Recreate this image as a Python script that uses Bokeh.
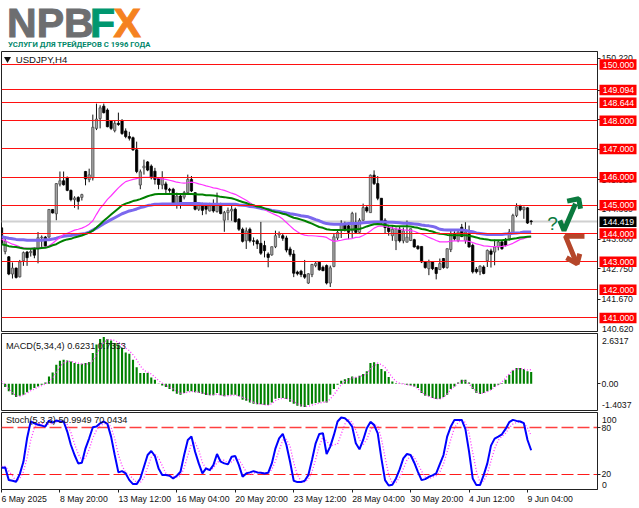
from bokeh.plotting import figure
from bokeh.layouts import column
from bokeh.models import Range1d, LinearAxis, FixedTicker, Label, NumeralTickFormatter
from bokeh.core.properties import value
from bokeh.embed import file_html
from bokeh.resources import INLINE

opens = [144.20,143.36,143.17,142.56,142.77,142.46,143.03,143.34,143.32,143.44,
143.46,143.85,143.87,143.87,144.85,144.70,145.75,145.87,145.99,145.53,
145.20,145.28,145.28,146.20,145.91,145.97,147.73,148.08,148.52,148.38,
147.99,147.65,147.91,147.99,147.64,147.44,147.40,146.97,145.72,146.33,
146.54,146.39,146.21,145.95,145.72,145.76,145.57,145.57,145.04,145.33,
145.29,145.45,145.92,145.45,144.86,145.04,144.98,144.80,145.04,144.78,
145.04,144.47,144.74,144.80,144.86,144.51,144.15,143.74,144.15,143.74,
143.74,143.65,143.57,143.27,143.24,143.53,143.95,143.92,143.84,143.45,
143.27,142.63,142.66,142.54,142.24,142.54,142.86,142.98,142.80,142.86,
142.24,142.83,143.84,144.10,144.33,144.27,144.10,144.39,144.04,144.47,
144.92,144.74,146.07,145.77,145.25,144.47,144.21,143.92,143.74,144.15,
143.74,143.69,143.75,143.78,143.55,143.54,142.99,142.75,142.99,142.79,
142.72,143.11,142.79,143.43,144.01,143.75,144.22,143.75,143.99,143.58,
142.73,142.64,142.81,143.03,143.38,143.34,143.52,143.70,143.75,143.81,
144.01,144.64,144.97,144.84,144.91,144.44]
highs = [144.34,143.91,143.20,142.97,142.79,143.06,143.36,143.38,143.44,143.50,
144.05,143.93,143.91,144.87,144.87,145.79,146.20,146.20,146.02,145.56,
145.32,145.32,145.41,146.22,146.30,148.22,148.61,148.55,148.61,148.44,
148.02,148.02,148.29,148.06,147.73,147.61,147.44,147.26,146.27,146.62,
146.57,146.45,146.33,145.98,146.21,145.84,145.62,145.62,145.45,145.39,
145.51,146.09,146.04,145.45,145.09,145.09,145.04,145.09,145.21,145.45,
145.09,144.80,144.92,145.04,144.92,144.54,144.21,144.21,144.21,143.86,
143.80,144.41,143.74,143.33,143.53,144.10,144.07,144.00,143.92,143.53,
143.41,142.68,142.71,143.06,142.59,142.92,143.00,143.00,142.86,142.90,
142.86,143.98,144.15,144.47,144.42,144.39,144.77,144.74,144.54,145.06,
144.98,146.09,146.24,146.04,145.25,144.54,144.27,144.27,144.21,144.24,
144.21,144.46,144.17,143.81,143.58,143.54,143.01,143.07,143.01,142.81,
143.11,143.13,143.46,144.11,144.08,144.13,144.34,144.40,144.28,143.64,
142.81,142.87,142.87,143.43,143.46,143.78,143.75,143.75,143.84,144.16,
144.70,145.07,145.02,144.95,144.93,144.48]
lows = [143.59,143.26,142.52,142.40,142.40,142.44,142.85,142.85,143.18,143.12,
142.94,143.52,143.50,143.85,144.71,144.47,145.67,145.70,145.50,145.14,
144.91,144.85,145.17,145.71,145.82,145.88,147.67,147.73,148.26,147.77,
147.67,147.59,147.82,147.50,147.38,147.30,146.93,146.14,145.57,146.09,
146.21,145.92,145.74,145.57,145.57,145.42,145.45,145.04,144.88,144.88,
145.21,145.41,145.47,144.82,144.80,144.65,144.68,144.78,144.74,144.74,
144.68,144.06,144.47,144.45,144.39,144.09,143.68,143.45,143.68,143.57,
143.45,143.24,143.15,142.80,143.21,143.48,143.84,143.74,143.33,143.18,
142.45,142.51,142.45,142.39,142.21,142.45,142.80,142.68,142.66,142.19,
142.10,142.80,143.77,143.84,144.07,143.80,143.84,144.00,143.98,144.45,
144.74,144.74,145.72,145.18,144.35,144.00,143.92,143.74,143.41,143.68,
143.65,143.69,143.73,143.50,143.42,142.95,142.75,142.52,142.70,142.37,
142.70,142.75,142.75,143.34,143.75,143.69,143.87,143.64,143.50,142.58,
142.58,142.52,142.55,142.81,142.79,142.87,143.40,143.42,143.54,143.75,
143.99,144.58,144.79,144.52,144.34,144.31]
closes = [143.65,143.73,142.56,142.77,142.44,142.99,143.32,143.14,143.36,143.23,
143.85,143.87,143.56,144.85,144.73,145.77,145.87,145.73,145.53,145.20,
145.26,145.14,145.38,145.94,146.08,147.77,148.06,148.46,148.29,147.79,
147.73,147.91,147.87,147.55,147.44,147.38,146.97,146.20,146.19,146.39,
146.25,145.98,145.92,145.74,145.98,145.57,145.53,145.04,145.33,145.04,
145.45,145.92,145.51,144.86,145.04,144.82,144.86,144.98,144.80,145.04,
144.71,144.74,144.82,144.86,144.42,144.15,143.72,144.09,143.74,143.72,
143.63,143.30,143.39,143.15,143.53,143.92,144.00,143.83,143.41,143.25,
142.59,142.57,142.54,142.45,142.57,142.90,142.94,142.71,142.68,142.24,
142.78,143.88,144.04,144.33,144.15,144.04,144.71,144.04,144.47,144.92,
144.80,146.07,145.77,145.25,144.45,144.21,144.07,144.15,144.15,143.74,
144.09,143.87,144.17,143.52,143.46,142.99,142.79,142.99,142.75,142.58,
142.93,142.79,143.46,143.99,143.81,144.05,143.89,144.05,143.52,142.64,
142.64,142.84,142.58,143.40,143.26,143.52,143.70,143.46,143.58,144.05,
144.64,144.95,144.84,144.93,144.37,144.42]

ma_fast = [143.80,143.74,143.68,143.62,143.58,143.53,143.49,143.47,143.47,143.48,
143.49,143.51,143.52,143.56,143.65,143.76,143.86,143.96,144.01,144.06,
144.12,144.15,144.19,144.25,144.33,144.45,144.68,144.89,145.04,145.21,
145.34,145.48,145.62,145.74,145.84,145.88,145.92,145.95,145.98,145.99,
145.99,145.99,145.98,145.96,145.94,145.92,145.89,145.86,145.82,145.80,
145.79,145.80,145.82,145.80,145.76,145.73,145.69,145.66,145.62,145.60,
145.56,145.53,145.48,145.43,145.39,145.32,145.25,145.18,145.09,145.01,
144.96,144.92,144.85,144.78,144.72,144.66,144.60,144.51,144.39,144.27,
144.15,144.06,143.98,143.94,143.92,143.92,143.91,143.90,143.89,143.86,
143.78,143.72,143.74,143.76,143.79,143.81,143.82,143.86,143.87,143.93,
144.00,144.09,144.19,144.25,144.27,144.26,144.22,144.20,144.16,144.15,
144.13,144.12,144.10,144.08,144.02,143.98,143.93,143.86,143.81,143.75,
143.70,143.70,143.70,143.73,143.74,143.74,143.74,143.74,143.72,143.68,
143.63,143.60,143.56,143.55,143.53,143.53,143.53,143.54,143.56,143.60,
143.65,143.72,143.79,143.82,143.86,143.88]
ma_mid = [143.62,143.59,143.55,143.53,143.52,143.49,143.47,143.46,143.46,143.47,
143.47,143.48,143.49,143.53,143.58,143.62,143.69,143.75,143.79,143.81,
143.86,143.89,143.93,143.98,144.03,144.10,144.21,144.33,144.45,144.56,
144.67,144.78,144.89,145.00,145.06,145.10,145.15,145.18,145.22,145.27,
145.32,145.36,145.39,145.40,145.40,145.40,145.40,145.40,145.40,145.40,
145.40,145.40,145.40,145.39,145.38,145.38,145.36,145.36,145.35,145.33,
145.30,145.29,145.27,145.25,145.21,145.16,145.12,145.08,145.03,145.00,
144.96,144.94,144.89,144.85,144.80,144.76,144.74,144.70,144.67,144.61,
144.56,144.53,144.49,144.45,144.40,144.35,144.29,144.23,144.20,144.15,
144.13,144.12,144.12,144.12,144.12,144.13,144.14,144.15,144.16,144.20,
144.25,144.29,144.33,144.34,144.33,144.30,144.28,144.27,144.26,144.26,
144.26,144.26,144.25,144.22,144.20,144.16,144.14,144.10,144.07,144.02,
143.99,143.98,143.95,143.94,143.94,143.94,143.94,143.94,143.92,143.89,
143.86,143.82,143.80,143.79,143.76,143.76,143.76,143.76,143.78,143.79,
143.81,143.83,143.86,143.87,143.88,143.89]
ma_slow = [143.88,143.86,143.83,143.81,143.79,143.78,143.78,143.76,143.76,143.76,
143.76,143.76,143.78,143.78,143.80,143.83,143.87,143.90,143.92,143.93,
143.95,143.96,143.98,144.00,144.05,144.12,144.19,144.27,144.35,144.42,
144.49,144.56,144.63,144.70,144.75,144.80,144.83,144.87,144.92,144.95,
144.99,145.01,145.04,145.04,145.05,145.05,145.05,145.05,145.05,145.06,
145.06,145.06,145.06,145.06,145.06,145.05,145.05,145.04,145.04,145.04,
145.04,145.04,145.04,145.04,145.04,145.01,145.00,144.99,144.96,144.95,
144.92,144.89,144.87,144.85,144.82,144.80,144.78,144.75,144.73,144.70,
144.68,144.66,144.63,144.61,144.59,144.54,144.49,144.45,144.39,144.35,
144.34,144.33,144.33,144.33,144.34,144.35,144.35,144.35,144.36,144.38,
144.39,144.40,144.41,144.41,144.41,144.41,144.40,144.40,144.39,144.38,
144.36,144.36,144.35,144.34,144.33,144.30,144.28,144.27,144.25,144.21,
144.15,144.13,144.12,144.12,144.12,144.12,144.12,144.11,144.08,144.06,
144.02,144.00,143.98,143.96,143.96,143.96,143.96,143.96,143.98,143.99,
144.01,144.02,144.03,144.05,144.05,144.05]

macd_hist = [0.02,-0.17,-0.40,-0.58,-0.70,-0.63,-0.58,-0.45,-0.31,-0.23,
-0.14,-0.05,0.07,0.38,0.59,1.00,1.21,1.26,1.22,1.17,
1.08,1.03,1.05,1.08,1.14,1.61,2.05,2.34,2.45,2.34,
2.27,2.13,2.05,1.87,1.64,1.57,1.26,0.86,0.56,0.56,
0.56,0.33,0.21,0.01,-0.10,-0.17,-0.28,-0.40,-0.52,-0.58,
-0.49,-0.40,-0.40,-0.45,-0.49,-0.52,-0.59,-0.61,-0.61,-0.49,
-0.61,-0.66,-0.61,-0.58,-0.58,-0.66,-0.84,-0.89,-0.98,-1.05,
-1.08,-1.08,-1.12,-1.12,-0.98,-0.79,-0.75,-0.75,-0.80,-0.94,
-1.05,-1.15,-1.19,-1.22,-1.12,-1.05,-1.01,-0.98,-0.93,-0.98,
-0.58,-0.28,-0.05,0.16,0.24,0.30,0.38,0.33,0.42,0.51,
0.65,1.08,1.12,1.03,0.77,0.65,0.35,0.12,0.03,-0.02,
0.01,-0.05,-0.10,-0.14,-0.23,-0.49,-0.63,-0.66,-0.75,-0.80,
-0.80,-0.70,-0.58,-0.28,-0.14,0.07,0.21,0.21,0.07,-0.28,
-0.49,-0.54,-0.49,-0.40,-0.31,-0.17,-0.05,0.03,0.21,0.47,
0.70,0.82,0.82,0.77,0.65,0.62]
macd_signal = [0.12,-0.05,-0.28,-0.49,-0.63,-0.66,-0.58,-0.49,-0.37,-0.28,
-0.17,-0.10,0.00,0.07,0.30,0.56,0.91,1.08,1.17,1.17,
1.12,1.08,1.03,1.03,1.05,1.21,1.52,1.87,2.17,2.31,
2.31,2.26,2.17,2.05,1.87,1.73,1.52,1.26,0.94,0.70,
0.61,0.51,0.35,0.17,0.03,-0.09,-0.17,-0.28,-0.40,-0.49,
-0.49,-0.45,-0.40,-0.42,-0.45,-0.49,-0.54,-0.58,-0.59,-0.54,
-0.58,-0.63,-0.63,-0.61,-0.59,-0.63,-0.72,-0.80,-0.89,-0.98,
-1.03,-1.07,-1.10,-1.12,-1.05,-0.89,-0.80,-0.77,-0.77,-0.84,
-0.94,-1.05,-1.12,-1.19,-1.19,-1.12,-1.07,-1.01,-0.98,-0.96,
-0.80,-0.58,-0.31,-0.05,0.12,0.21,0.30,0.33,0.37,0.44,
0.52,0.77,0.94,1.08,1.00,0.86,0.59,0.33,0.12,0.02,
-0.02,-0.05,-0.09,-0.14,-0.26,-0.45,-0.58,-0.66,-0.75,-0.79,
-0.79,-0.72,-0.52,-0.31,-0.14,0.03,0.16,0.16,-0.02,-0.23,
-0.42,-0.52,-0.49,-0.42,-0.31,-0.17,-0.05,0.09,0.30,0.52,
0.70,0.77,0.80,0.77,0.72,0.74]

stoch_main = [28.3,28.7,12.2,11.3,10.0,20.0,36.0,66.5,88.3,86.0,
84.0,83.0,81.7,89.6,87.0,89.6,88.3,88.3,75.2,57.8,
44.8,33.9,34.8,53.5,66.5,80.9,81.7,86.0,88.3,85.2,
68.7,44.8,22.2,23.9,20.9,12.2,7.0,7.0,14.3,29.6,
44.8,50.0,43.5,27.4,18.7,18.7,17.8,14.3,17.8,23.0,
44.8,64.3,68.7,49.1,33.9,20.9,27.4,25.2,31.7,46.1,
36.1,33.9,32.6,42.6,43.5,31.7,16.5,20.9,22.2,23.9,
22.2,21.7,20.9,21.7,33.9,53.5,66.5,72.2,57.8,36.1,
11.3,9.6,9.6,11.3,18.7,38.3,60.0,72.2,73.0,46.1,
55.7,70.9,88.3,93.5,92.6,88.3,81.7,60.0,52.2,64.3,
79.6,87.8,83.9,73.0,40.4,12.2,5.2,6.1,14.3,26.1,
40.4,46.1,44.8,34.8,23.0,12.2,13.5,16.5,18.3,20.9,
33.0,44.8,68.7,81.7,90.4,90.4,90.4,78.3,49.1,14.3,
5.7,5.7,18.7,33.9,57.0,66.1,68.7,71.7,78.7,87.4,
90.4,89.1,88.3,86.1,64.3,51.0]
stoch_signal = [30,30,24,18,11,14,23,41,64,80,
87,86,84,85,86,88,88,89,84,74,
59,46,38,41,52,67,77,83,85,86,
81,66,45,31,22,19,14,9,9,15,
29,42,46,41,31,21,18,17,16,18,
28,44,59,61,51,35,27,24,28,35,
38,38,34,36,40,39,31,23,19,21,
23,22,22,21,26,37,51,64,65,56,
35,19,11,10,13,23,39,57,68,63,
57,58,59,72,85,91,87,77,65,58,
65,77,84,83,66,42,19,8,9,16,
27,38,44,42,33,24,16,14,16,18,
23,33,49,65,80,87,90,87,73,48,
24,9,11,20,37,53,64,69,73,80,
85,87,88,86,80,70]

levels = [150.000,149.094,148.644,148.000,147.000,146.000,145.000,144.000,143.000,142.000,141.000]
bid = 144.419
price_ticks = [150.22,149.08,148.03,146.97,145.91,144.86,143.80,142.75,141.67]
last_price_tick = 140.62
date_ticks = [0,16,32,48,64,80,96,112,128,144]
date_labels = ["6 May 2025","8 May 20:00","13 May 12:00","16 May 04:00","20 May 20:00",
               "23 May 12:00","28 May 04:00","30 May 20:00","4 Jun 12:00","9 Jun 04:00"]
macd_title = "MACD(5,34,4) 0.6231 0.7353"
stoch_title = "Stoch(5,3,3) 50.9949 70.0434"
symbol_title = "USDJPY,H4"
logo_sub = "УСЛУГИ ДЛЯ ТРЕЙДЕРОВ С 1996 ГОДА"

FONT = value("Liberation Sans")
FONTNAME = "Liberation Sans"
FS = "8.7px"
BAR_END = 163.16
DARK = "#222222"
PINK = "#ff33ff"

def x_of(series):
    return list(range(len(series)))

def base(height, yr, top, bottom):
    p = figure(width=639, height=height, x_range=Range1d(0, BAR_END), y_range=Range1d(*yr),
               output_backend="svg", toolbar_location=None, min_border_left=1, min_border_right=42,
               min_border_top=top, min_border_bottom=bottom, x_axis_location=None, y_axis_location=None,
               background_fill_color="white", border_fill_color="white")
    p.grid.visible = False
    p.outline_line_color = DARK
    p.outline_line_width = 1
    return p

def right_axis(p, ticks, fmt=None):
    ax = LinearAxis(ticker=FixedTicker(ticks=ticks), axis_line_color=DARK, major_tick_line_color=DARK,
                    major_tick_in=0, major_tick_out=3, minor_tick_line_color=None, major_label_standoff=1,
                    major_label_text_font=FONTNAME, major_label_text_font_size=FS,
                    major_label_text_color="#111111")
    if fmt:
        ax.formatter = NumeralTickFormatter(format=fmt)
    p.add_layout(ax, "right")

def note(p, text, x, y, **kw):
    opts = dict(text_font=FONTNAME, text_font_size=FS, text_color="#111111", text_baseline="middle", text_align="left")
    opts.update(kw)
    p.add_layout(Label(x=x, y=y, text=text, **opts))

# ---------- logo ----------
logo = figure(width=639, height=51, x_range=Range1d(0, 639), y_range=Range1d(51, 0), output_backend="svg",
              toolbar_location=None, min_border=0, x_axis_location=None, y_axis_location=None,
              background_fill_color="white", border_fill_color="white")
logo.grid.visible = False
logo.outline_line_color = None
logo.text(x=[6], y=[22], text=["NPB"], text_font=FONT, text_font_style="bold", text_font_size="41px",
          text_color="#6d6e70", text_outline_color="#6d6e70", text_baseline="middle")
logo.text(x=[95], y=[22], text=["F"], text_font=FONT, text_font_style="bold", text_font_size="41px",
          text_color="#00976f", text_outline_color="#00976f", text_baseline="middle")
logo.text(x=[120], y=[22], text=["X"], text_font=FONT, text_font_style="bold", text_font_size="41px",
          text_color="#f58220", text_outline_color="#f58220", text_baseline="middle")
logo.text(x=[7], y=[44], text=[logo_sub], text_font=value("Roboto"), text_font_style="bold",
          text_font_size="7.7px", text_color="#00876a", text_baseline="middle")

# ---------- price pane ----------
main = base(281, (140.52, 150.46), 0, 1)
xs = x_of(opens)
up = [c >= o for o, c in zip(opens, closes)]
main.hspan(y=[bid], line_color="#d0d0d0", line_width=2)
main.segment(x0=xs, x1=xs, y0=lows, y1=highs, line_color="#111111", line_width=1)
for flag, fill, edge in ((True, "#a8a8a8", "#4a4a4a"), (False, "#000000", "#000000")):
    idx = [i for i in xs if up[i] == flag]
    main.vbar(x=idx, width=0.62, bottom=[opens[i] for i in idx], top=[closes[i] for i in idx],
              fill_color=fill, line_color=edge, line_width=0.8)
main.line(x_of(ma_slow), ma_slow, line_color="#7b68ee", line_width=3)
main.line(x_of(ma_fast), ma_fast, line_color=PINK, line_width=1.2)
main.line(x_of(ma_mid), ma_mid, line_color="#008000", line_width=2)
main.hspan(y=levels, line_color="#ff1010", line_width=1.2)

def px(x):
    return (x - 1) / 3.653

def py(y):
    return 150 - (y - 64) / 28.17

def price_y(p):
    return 64 + (150 - p) * 28.17

def bar_x(b):
    return 1 + 3.653 * b

GREEN = "#0b7a3e"
BROWN = "#b5462a"
main.line([px(v) for v in (559.3, 563.5, 575)], [py(v) for v in (220, 230, 203.3)], line_color=GREEN, line_width=5)
main.line([px(v) for v in (566.7, 578.3, 580)], [py(v) for v in (200.7, 198.3, 208.3)], line_color=GREEN, line_width=5)
main.line([px(v) for v in (584, 565, 575)], [py(v) for v in (235.7, 235.7, 260)], line_color=BROWN, line_width=5)
main.line([px(v) for v in (566, 576.7, 579.3)], [py(v) for v in (257.3, 263.3, 253.3)], line_color=BROWN, line_width=5)
main.text(x=[px(552)], y=[py(223.5)], text=["?"], text_font=FONT, text_font_size="19px", text_color=GREEN,
          text_align="center", text_baseline="middle")

main.scatter(x=[px(7)], y=[py(58.5)], marker="inverted_triangle", size=7, fill_color="#111111", line_color=None)
note(main, symbol_title, 3.9, py(58.7), text_font_size="9.6px")
right_axis(main, price_ticks, "0.000")

# ---------- MACD pane ----------
macd = base(79, (-1.4037, 2.6317), 1, 1)
macd.vbar(x=x_of(macd_hist), width=0.58, bottom=0, top=macd_hist, fill_color="#008000", line_color=None)
macd.line(x_of(macd_signal), macd_signal, line_color=PINK, line_width=1.3, line_dash="1 2")
right_axis(macd, [0], "0.00")
note(macd, macd_title, 1.2, 2.0, text_font_size="9.2px")

# ---------- Stochastic pane ----------
stoch = base(97, (0, 100), 1, 19)
stoch.hspan(y=[80], line_color="#ff4040", line_width=1.6, line_dash="12 4")
stoch.hspan(y=[20], line_color="#ff1a1a", line_width=1.2, line_dash="12 4")
stoch.line(x_of(stoch_signal), stoch_signal, line_color=PINK, line_width=1.3, line_dash="1 2")
stoch.line(x_of(stoch_main), stoch_main, line_color="#0000ff", line_width=2)
right_axis(stoch, [20, 80])
note(stoch, stoch_title, 1.2, 90, text_font_size="9.2px")
tick_axis = LinearAxis(ticker=FixedTicker(ticks=date_ticks), axis_line_color=None, major_tick_line_color=DARK,
                       major_tick_in=0, major_tick_out=3, minor_tick_line_color=None,
                       major_label_overrides={t: "" for t in date_ticks})
stoch.add_layout(tick_axis, "below")

page = column(logo, main, macd, stoch, spacing=0, styles={"position": "absolute", "left": "0", "top": "0"})

# ---------- labels outside the panes, on a transparent page-sized layer ----------
layer = figure(width=639, height=508, x_range=Range1d(0, 639), y_range=Range1d(508, 0), output_backend="svg",
               toolbar_location=None, min_border=0, x_axis_location=None, y_axis_location=None,
               background_fill_color=None, border_fill_color=None,
               styles={"position": "absolute", "left": "0", "top": "0"})
layer.grid.visible = False
layer.outline_line_color = None
tag_y = [price_y(v) for v in levels]
layer.rect(x=[617.5] * len(levels), y=tag_y, width=37, height=10.5, fill_color="#ff0000", line_color=None)
layer.text(x=[618] * len(levels), y=tag_y, text=[f"{v:.3f}" for v in levels], text_font=FONT, text_font_size=FS,
           text_color="white", text_align="center", text_baseline="middle")
layer.rect(x=[617.5], y=[price_y(bid)], width=37, height=10.5, fill_color="#000000", line_color=None)
layer.text(x=[618], y=[price_y(bid)], text=[f"{bid:.3f}"], text_font=FONT, text_font_size=FS,
           text_color="white", text_align="center", text_baseline="middle")
side_y = [price_y(last_price_tick), 340, 404.5, 419, 484]
side_text = [f"{last_price_tick:.3f}", "2.6317", "-1.4037", "100", "0"]
layer.text(x=[601.5] * 5, y=side_y, text=side_text, text_font=FONT, text_font_size=FS,
           text_color="#111111", text_align="left", text_baseline="middle")
layer.text(x=[bar_x(t) for t in date_ticks], y=[498] * len(date_ticks), text=date_labels, text_font=FONT,
           text_font_size=FS, text_color="#111111", text_align="left", text_baseline="middle")

open("out.html", "w").write(file_html([page, layer], INLINE))
